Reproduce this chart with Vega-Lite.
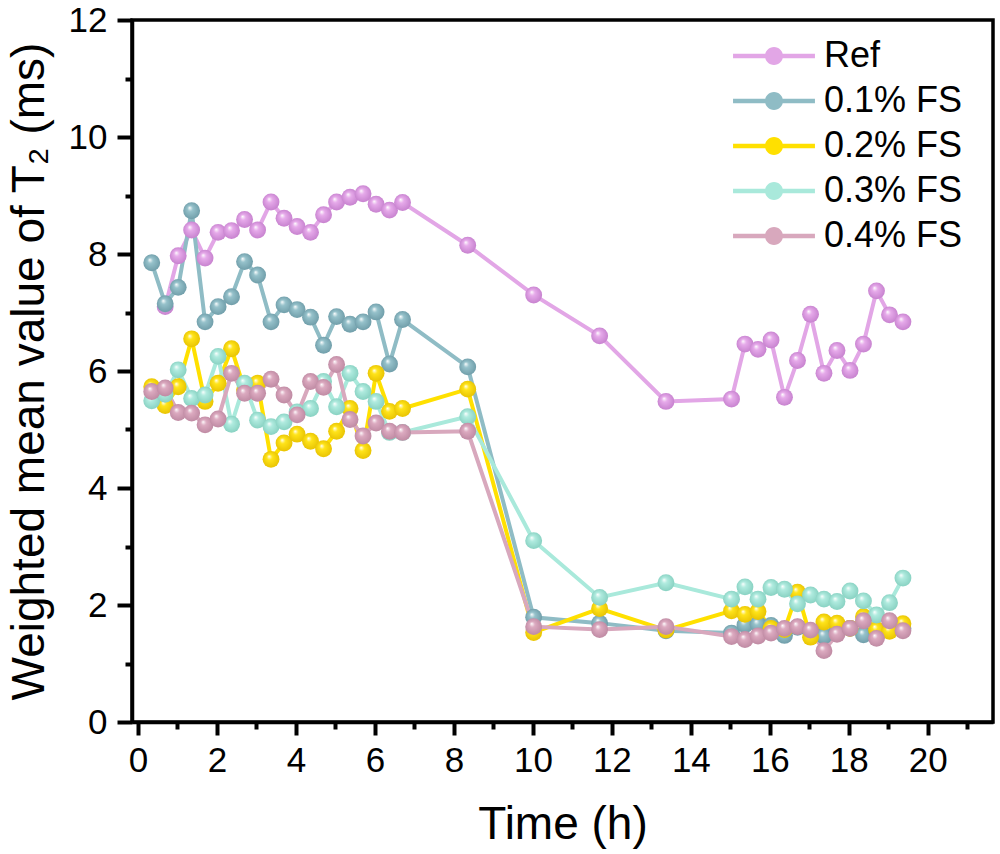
{
  "$schema": "https://vega.github.io/schema/vega-lite/v6.json",
  "width": 861,
  "height": 702,
  "autosize": "none",
  "padding": {"left": 132, "top": 20, "right": 7, "bottom": 132},
  "background": "white",
  "config": {
    "view": {"stroke": "black", "strokeWidth": 3.5},
    "font": "Liberation Sans",
    "axis": {
      "grid": false,
      "domainColor": "black",
      "domainWidth": 3.5,
      "tickColor": "black",
      "tickWidth": 4,
      "labelFont": "Liberation Sans",
      "labelFontSize": 35,
      "labelColor": "black",
      "titleFont": "Liberation Sans",
      "titleFontSize": 46,
      "titleFontWeight": "normal",
      "titleColor": "black",
      "labelFlush": false,
      "labelOverlap": false
    }
  },
  "data": {
    "values": [
      {"series": "Ref", "time": 0.69, "T2": 7.10},
      {"series": "Ref", "time": 1.02, "T2": 7.97},
      {"series": "Ref", "time": 1.36, "T2": 8.41},
      {"series": "Ref", "time": 1.70, "T2": 7.93},
      {"series": "Ref", "time": 2.03, "T2": 8.37},
      {"series": "Ref", "time": 2.37, "T2": 8.40},
      {"series": "Ref", "time": 2.70, "T2": 8.59},
      {"series": "Ref", "time": 3.03, "T2": 8.41},
      {"series": "Ref", "time": 3.37, "T2": 8.89},
      {"series": "Ref", "time": 3.70, "T2": 8.61},
      {"series": "Ref", "time": 4.03, "T2": 8.47},
      {"series": "Ref", "time": 4.37, "T2": 8.37},
      {"series": "Ref", "time": 4.70, "T2": 8.67},
      {"series": "Ref", "time": 5.03, "T2": 8.89},
      {"series": "Ref", "time": 5.37, "T2": 8.97},
      {"series": "Ref", "time": 5.70, "T2": 9.03},
      {"series": "Ref", "time": 6.03, "T2": 8.85},
      {"series": "Ref", "time": 6.37, "T2": 8.75},
      {"series": "Ref", "time": 6.70, "T2": 8.88},
      {"series": "Ref", "time": 8.35, "T2": 8.15},
      {"series": "Ref", "time": 10.02, "T2": 7.30},
      {"series": "Ref", "time": 11.69, "T2": 6.60},
      {"series": "Ref", "time": 13.37, "T2": 5.48},
      {"series": "Ref", "time": 15.03, "T2": 5.52},
      {"series": "Ref", "time": 15.37, "T2": 6.46},
      {"series": "Ref", "time": 15.70, "T2": 6.37},
      {"series": "Ref", "time": 16.03, "T2": 6.53},
      {"series": "Ref", "time": 16.37, "T2": 5.55},
      {"series": "Ref", "time": 16.70, "T2": 6.18},
      {"series": "Ref", "time": 17.03, "T2": 6.97},
      {"series": "Ref", "time": 17.37, "T2": 5.96},
      {"series": "Ref", "time": 17.70, "T2": 6.35},
      {"series": "Ref", "time": 18.03, "T2": 6.01},
      {"series": "Ref", "time": 18.37, "T2": 6.46},
      {"series": "Ref", "time": 18.70, "T2": 7.37},
      {"series": "Ref", "time": 19.03, "T2": 6.96},
      {"series": "Ref", "time": 19.37, "T2": 6.84},

      {"series": "0.1% FS", "time": 0.35, "T2": 7.85},
      {"series": "0.1% FS", "time": 0.69, "T2": 7.15},
      {"series": "0.1% FS", "time": 1.02, "T2": 7.43},
      {"series": "0.1% FS", "time": 1.36, "T2": 8.74},
      {"series": "0.1% FS", "time": 1.70, "T2": 6.84},
      {"series": "0.1% FS", "time": 2.03, "T2": 7.10},
      {"series": "0.1% FS", "time": 2.37, "T2": 7.27},
      {"series": "0.1% FS", "time": 2.70, "T2": 7.87},
      {"series": "0.1% FS", "time": 3.03, "T2": 7.64},
      {"series": "0.1% FS", "time": 3.37, "T2": 6.84},
      {"series": "0.1% FS", "time": 3.70, "T2": 7.13},
      {"series": "0.1% FS", "time": 4.03, "T2": 7.05},
      {"series": "0.1% FS", "time": 4.37, "T2": 6.92},
      {"series": "0.1% FS", "time": 4.70, "T2": 6.44},
      {"series": "0.1% FS", "time": 5.03, "T2": 6.93},
      {"series": "0.1% FS", "time": 5.37, "T2": 6.80},
      {"series": "0.1% FS", "time": 5.70, "T2": 6.84},
      {"series": "0.1% FS", "time": 6.03, "T2": 7.01},
      {"series": "0.1% FS", "time": 6.37, "T2": 6.12},
      {"series": "0.1% FS", "time": 6.70, "T2": 6.88},
      {"series": "0.1% FS", "time": 8.35, "T2": 6.07},
      {"series": "0.1% FS", "time": 10.02, "T2": 1.79},
      {"series": "0.1% FS", "time": 11.69, "T2": 1.69},
      {"series": "0.1% FS", "time": 13.37, "T2": 1.56},
      {"series": "0.1% FS", "time": 15.03, "T2": 1.52},
      {"series": "0.1% FS", "time": 15.37, "T2": 1.66},
      {"series": "0.1% FS", "time": 15.70, "T2": 1.67},
      {"series": "0.1% FS", "time": 16.03, "T2": 1.65},
      {"series": "0.1% FS", "time": 16.37, "T2": 1.48},
      {"series": "0.1% FS", "time": 16.70, "T2": 1.62},
      {"series": "0.1% FS", "time": 17.03, "T2": 1.55},
      {"series": "0.1% FS", "time": 17.37, "T2": 1.47},
      {"series": "0.1% FS", "time": 17.70, "T2": 1.55},
      {"series": "0.1% FS", "time": 18.03, "T2": 1.60},
      {"series": "0.1% FS", "time": 18.37, "T2": 1.49},
      {"series": "0.1% FS", "time": 18.70, "T2": 1.55},
      {"series": "0.1% FS", "time": 19.03, "T2": 1.60},
      {"series": "0.1% FS", "time": 19.37, "T2": 1.60},

      {"series": "0.2% FS", "time": 0.35, "T2": 5.73},
      {"series": "0.2% FS", "time": 0.69, "T2": 5.41},
      {"series": "0.2% FS", "time": 1.02, "T2": 5.73},
      {"series": "0.2% FS", "time": 1.36, "T2": 6.55},
      {"series": "0.2% FS", "time": 1.70, "T2": 5.48},
      {"series": "0.2% FS", "time": 2.03, "T2": 5.79},
      {"series": "0.2% FS", "time": 2.37, "T2": 6.38},
      {"series": "0.2% FS", "time": 2.70, "T2": 5.68},
      {"series": "0.2% FS", "time": 3.03, "T2": 5.79},
      {"series": "0.2% FS", "time": 3.37, "T2": 4.49},
      {"series": "0.2% FS", "time": 3.70, "T2": 4.77},
      {"series": "0.2% FS", "time": 4.03, "T2": 4.92},
      {"series": "0.2% FS", "time": 4.37, "T2": 4.80},
      {"series": "0.2% FS", "time": 4.70, "T2": 4.67},
      {"series": "0.2% FS", "time": 5.03, "T2": 4.97},
      {"series": "0.2% FS", "time": 5.37, "T2": 5.36},
      {"series": "0.2% FS", "time": 5.70, "T2": 4.64},
      {"series": "0.2% FS", "time": 6.03, "T2": 5.96},
      {"series": "0.2% FS", "time": 6.37, "T2": 5.31},
      {"series": "0.2% FS", "time": 6.70, "T2": 5.36},
      {"series": "0.2% FS", "time": 8.35, "T2": 5.69},
      {"series": "0.2% FS", "time": 10.02, "T2": 1.53},
      {"series": "0.2% FS", "time": 11.69, "T2": 1.94},
      {"series": "0.2% FS", "time": 13.37, "T2": 1.57},
      {"series": "0.2% FS", "time": 15.03, "T2": 1.90},
      {"series": "0.2% FS", "time": 15.37, "T2": 1.84},
      {"series": "0.2% FS", "time": 15.70, "T2": 1.89},
      {"series": "0.2% FS", "time": 16.03, "T2": 1.60},
      {"series": "0.2% FS", "time": 16.37, "T2": 1.58},
      {"series": "0.2% FS", "time": 16.70, "T2": 2.22},
      {"series": "0.2% FS", "time": 17.03, "T2": 1.45},
      {"series": "0.2% FS", "time": 17.37, "T2": 1.71},
      {"series": "0.2% FS", "time": 17.70, "T2": 1.69},
      {"series": "0.2% FS", "time": 18.03, "T2": 1.60},
      {"series": "0.2% FS", "time": 18.37, "T2": 1.80},
      {"series": "0.2% FS", "time": 18.70, "T2": 1.58},
      {"series": "0.2% FS", "time": 19.03, "T2": 1.55},
      {"series": "0.2% FS", "time": 19.37, "T2": 1.68},

      {"series": "0.3% FS", "time": 0.35, "T2": 5.49},
      {"series": "0.3% FS", "time": 0.69, "T2": 5.60},
      {"series": "0.3% FS", "time": 1.02, "T2": 6.02},
      {"series": "0.3% FS", "time": 1.36, "T2": 5.53},
      {"series": "0.3% FS", "time": 1.70, "T2": 5.59},
      {"series": "0.3% FS", "time": 2.03, "T2": 6.25},
      {"series": "0.3% FS", "time": 2.37, "T2": 5.09},
      {"series": "0.3% FS", "time": 2.70, "T2": 5.79},
      {"series": "0.3% FS", "time": 3.03, "T2": 5.16},
      {"series": "0.3% FS", "time": 3.37, "T2": 5.05},
      {"series": "0.3% FS", "time": 3.70, "T2": 5.13},
      {"series": "0.3% FS", "time": 4.03, "T2": 5.30},
      {"series": "0.3% FS", "time": 4.37, "T2": 5.36},
      {"series": "0.3% FS", "time": 4.70, "T2": 5.82},
      {"series": "0.3% FS", "time": 5.03, "T2": 5.39},
      {"series": "0.3% FS", "time": 5.37, "T2": 5.96},
      {"series": "0.3% FS", "time": 5.70, "T2": 5.65},
      {"series": "0.3% FS", "time": 6.03, "T2": 5.48},
      {"series": "0.3% FS", "time": 6.37, "T2": 4.95},
      {"series": "0.3% FS", "time": 6.70, "T2": 4.95},
      {"series": "0.3% FS", "time": 8.35, "T2": 5.22},
      {"series": "0.3% FS", "time": 10.02, "T2": 3.10},
      {"series": "0.3% FS", "time": 11.69, "T2": 2.13},
      {"series": "0.3% FS", "time": 13.37, "T2": 2.38},
      {"series": "0.3% FS", "time": 15.03, "T2": 2.10},
      {"series": "0.3% FS", "time": 15.37, "T2": 2.31},
      {"series": "0.3% FS", "time": 15.70, "T2": 2.10},
      {"series": "0.3% FS", "time": 16.03, "T2": 2.30},
      {"series": "0.3% FS", "time": 16.37, "T2": 2.27},
      {"series": "0.3% FS", "time": 16.70, "T2": 2.02},
      {"series": "0.3% FS", "time": 17.03, "T2": 2.17},
      {"series": "0.3% FS", "time": 17.37, "T2": 2.10},
      {"series": "0.3% FS", "time": 17.70, "T2": 2.06},
      {"series": "0.3% FS", "time": 18.03, "T2": 2.24},
      {"series": "0.3% FS", "time": 18.37, "T2": 2.07},
      {"series": "0.3% FS", "time": 18.70, "T2": 1.83},
      {"series": "0.3% FS", "time": 19.03, "T2": 2.04},
      {"series": "0.3% FS", "time": 19.37, "T2": 2.46},

      {"series": "0.4% FS", "time": 0.35, "T2": 5.65},
      {"series": "0.4% FS", "time": 0.69, "T2": 5.71},
      {"series": "0.4% FS", "time": 1.02, "T2": 5.29},
      {"series": "0.4% FS", "time": 1.36, "T2": 5.28},
      {"series": "0.4% FS", "time": 1.70, "T2": 5.08},
      {"series": "0.4% FS", "time": 2.03, "T2": 5.18},
      {"series": "0.4% FS", "time": 2.37, "T2": 5.96},
      {"series": "0.4% FS", "time": 2.70, "T2": 5.62},
      {"series": "0.4% FS", "time": 3.03, "T2": 5.62},
      {"series": "0.4% FS", "time": 3.37, "T2": 5.86},
      {"series": "0.4% FS", "time": 3.70, "T2": 5.59},
      {"series": "0.4% FS", "time": 4.03, "T2": 5.25},
      {"series": "0.4% FS", "time": 4.37, "T2": 5.82},
      {"series": "0.4% FS", "time": 4.70, "T2": 5.72},
      {"series": "0.4% FS", "time": 5.03, "T2": 6.11},
      {"series": "0.4% FS", "time": 5.37, "T2": 5.17},
      {"series": "0.4% FS", "time": 5.70, "T2": 4.89},
      {"series": "0.4% FS", "time": 6.03, "T2": 5.11},
      {"series": "0.4% FS", "time": 6.37, "T2": 4.97},
      {"series": "0.4% FS", "time": 6.70, "T2": 4.95},
      {"series": "0.4% FS", "time": 8.35, "T2": 4.97},
      {"series": "0.4% FS", "time": 10.02, "T2": 1.63},
      {"series": "0.4% FS", "time": 11.69, "T2": 1.58},
      {"series": "0.4% FS", "time": 13.37, "T2": 1.63},
      {"series": "0.4% FS", "time": 15.03, "T2": 1.46},
      {"series": "0.4% FS", "time": 15.37, "T2": 1.41},
      {"series": "0.4% FS", "time": 15.70, "T2": 1.47},
      {"series": "0.4% FS", "time": 16.03, "T2": 1.52},
      {"series": "0.4% FS", "time": 16.37, "T2": 1.60},
      {"series": "0.4% FS", "time": 16.70, "T2": 1.63},
      {"series": "0.4% FS", "time": 17.03, "T2": 1.57},
      {"series": "0.4% FS", "time": 17.37, "T2": 1.22},
      {"series": "0.4% FS", "time": 17.70, "T2": 1.50},
      {"series": "0.4% FS", "time": 18.03, "T2": 1.60},
      {"series": "0.4% FS", "time": 18.37, "T2": 1.73},
      {"series": "0.4% FS", "time": 18.70, "T2": 1.43},
      {"series": "0.4% FS", "time": 19.03, "T2": 1.73},
      {"series": "0.4% FS", "time": 19.37, "T2": 1.56}
    ]
  },
  "layer": [
    {
      "encoding": {
        "x": {
          "field": "time", "type": "quantitative",
          "scale": {"domain": [-0.15, 21.65], "nice": false, "zero": false},
          "axis": {"orient": "bottom", "values": [0, 2, 4, 6, 8, 10, 12, 14, 16, 18, 20], "tickSize": 13, "labelPadding": 8, "title": "Time (h)", "titlePadding": 24}
        },
        "y": {
          "field": "T2", "type": "quantitative",
          "scale": {"domain": [0, 12], "nice": false, "zero": false},
          "axis": {"orient": "left", "values": [0, 2, 4, 6, 8, 10, 12], "tickSize": 15, "labelPadding": 10, "title": "Weighted mean value of T₂ (ms)", "titlePadding": 15}
        }
      },
      "layer": [
        {
          "mark": {"type": "line", "strokeWidth": 4},
          "encoding": {
            "color": {
              "field": "series", "type": "nominal",
              "scale": {
                "domain": ["Ref", "0.1% FS", "0.2% FS", "0.3% FS", "0.4% FS"],
                "range": ["#E2A6E6", "#8FBCC5", "#FFE000", "#A9E9DB", "#D8A8BD"]
              },
              "legend": {
                "title": null,
                "orient": "none",
                "legendX": 624,
                "legendY": 18,
                "padding": 0,
                "labelFont": "Liberation Sans",
                "labelFontSize": 36,
                "labelColor": "black",
                "labelOffset": 32,
                "rowPadding": 9,
                "symbolType": "M-4.55,-0.24H-0.9V0.24H-4.55Z M0.9,-0.24H4.55V0.24H0.9Z M1,0A1,1,0,1,1,-1,0A1,1,0,1,1,1,0Z",
                "symbolSize": 324,
                "symbolStrokeWidth": 0,
                "encode": {
                  "symbols": {
                    "update": {
                      "fill": {"scale": "color", "field": "value"},
                      "stroke": {"value": "transparent"},
                      "opacity": {"value": 1}
                    }
                  }
                }
              }
            }
          }
        },
        {
          "transform": [{"filter": "datum.series === 'Ref'"}],
          "mark": {"type": "point", "filled": true, "size": 285, "opacity": 1, "strokeWidth": 0,
            "fill": {"gradient": "radial", "x1": 0.38, "y1": 0.32, "r1": 0, "x2": 0.5, "y2": 0.5, "r2": 0.55,
              "stops": [{"offset": 0, "color": "#ffffff"}, {"offset": 0.3, "color": "#E6AAEA"}, {"offset": 1, "color": "#C47ECC"}]}}
        },
        {
          "transform": [{"filter": "datum.series === '0.1% FS'"}],
          "mark": {"type": "point", "filled": true, "size": 285, "opacity": 1, "strokeWidth": 0,
            "fill": {"gradient": "radial", "x1": 0.38, "y1": 0.32, "r1": 0, "x2": 0.5, "y2": 0.5, "r2": 0.55,
              "stops": [{"offset": 0, "color": "#ffffff"}, {"offset": 0.3, "color": "#96C2CB"}, {"offset": 1, "color": "#6C9AA6"}]}}
        },
        {
          "transform": [{"filter": "datum.series === '0.2% FS'"}],
          "mark": {"type": "point", "filled": true, "size": 285, "opacity": 1, "strokeWidth": 0,
            "fill": {"gradient": "radial", "x1": 0.38, "y1": 0.32, "r1": 0, "x2": 0.5, "y2": 0.5, "r2": 0.55,
              "stops": [{"offset": 0, "color": "#ffffff"}, {"offset": 0.3, "color": "#FFE41A"}, {"offset": 1, "color": "#E6C000"}]}}
        },
        {
          "transform": [{"filter": "datum.series === '0.3% FS'"}],
          "mark": {"type": "point", "filled": true, "size": 285, "opacity": 1, "strokeWidth": 0,
            "fill": {"gradient": "radial", "x1": 0.38, "y1": 0.32, "r1": 0, "x2": 0.5, "y2": 0.5, "r2": 0.55,
              "stops": [{"offset": 0, "color": "#ffffff"}, {"offset": 0.3, "color": "#B0EBDF"}, {"offset": 1, "color": "#84CFBF"}]}}
        },
        {
          "transform": [{"filter": "datum.series === '0.4% FS'"}],
          "mark": {"type": "point", "filled": true, "size": 285, "opacity": 1, "strokeWidth": 0,
            "fill": {"gradient": "radial", "x1": 0.38, "y1": 0.32, "r1": 0, "x2": 0.5, "y2": 0.5, "r2": 0.55,
              "stops": [{"offset": 0, "color": "#ffffff"}, {"offset": 0.3, "color": "#DCAAC0"}, {"offset": 1, "color": "#BC87A0"}]}}
        }
      ]
    },
    {
      "mark": {"type": "point", "opacity": 0},
      "encoding": {
        "x": {
          "field": "time", "type": "quantitative",
          "scale": {"domain": [-0.15, 21.65], "nice": false, "zero": false},
          "axis": {"orient": "bottom", "values": [1, 3, 5, 7, 9, 11, 13, 15, 17, 19, 21], "tickSize": 7, "labels": false, "domain": false, "title": null}
        },
        "y": {
          "field": "T2", "type": "quantitative",
          "scale": {"domain": [0, 12], "nice": false, "zero": false},
          "axis": {"orient": "left", "values": [1, 3, 5, 7, 9, 11], "tickSize": 7, "labels": false, "domain": false, "title": null}
        }
      }
    }
  ],
  "resolve": {"axis": {"x": "independent", "y": "independent"}}
}
